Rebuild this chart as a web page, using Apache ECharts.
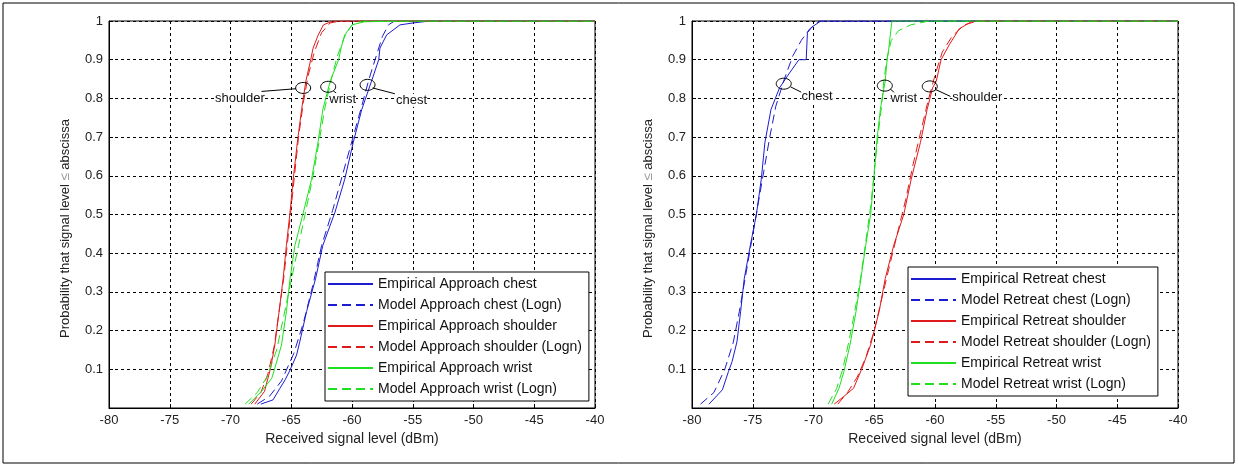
<!DOCTYPE html>
<html>
<head>
<meta charset="utf-8">
<script src="https://cdn.jsdelivr.net/npm/echarts@6/dist/echarts.min.js"></script>
<style>
  html, body { margin: 0; padding: 0; background: #fff; }
  #chart { width: 1238px; height: 467px; }
</style>
</head>
<body>
<div id="chart"></div>
<script>
// CDF curves: [signal level dBm, probability]
const xTicks = [-80, -40, 5];
const yTicks = [0, 1, 0.1];

// left panel: approach
const empApproachChest = [[-67.5,0.01],[-66.5,0.021],[-65.95,0.05],[-65.5,0.073],[-65.1,0.098],[-64.56,0.137],[-64.3,0.171],[-63.74,0.249],[-63.0,0.334],[-62.4,0.42],[-61.4,0.506],[-60.6,0.591],[-59.9,0.686],[-59.2,0.771],[-58.4,0.844],[-57.8,0.9],[-57.7,0.93],[-57.15,0.964],[-56.05,0.99],[-54.95,0.995],[-53.6,1],[-40,1]];
const modApproachChest = [[-67.8,0.01],[-66.8,0.03],[-65.8,0.07],[-64.8,0.14],[-64.0,0.22],[-63.2,0.32],[-62.5,0.42],[-61.6,0.51],[-60.8,0.6],[-60.0,0.69],[-59.2,0.78],[-58.6,0.85],[-58.0,0.91],[-57.5,0.96],[-57.0,0.99],[-56.5,1],[-40,1]];
const empApproachShoulder = [[-68.0,0.01],[-67.2,0.043],[-66.7,0.103],[-66.35,0.163],[-66.0,0.249],[-65.67,0.334],[-65.4,0.42],[-65.1,0.506],[-64.84,0.591],[-64.5,0.686],[-64.15,0.771],[-63.8,0.844],[-63.4,0.9],[-63.2,0.93],[-62.78,0.964],[-62.35,0.99],[-61.6,1],[-40,1]];
const modApproachShoulder = [[-68.3,0.01],[-67.5,0.04],[-66.9,0.09],[-66.4,0.16],[-66.0,0.25],[-65.6,0.34],[-65.3,0.43],[-65.0,0.52],[-64.7,0.61],[-64.4,0.7],[-64.0,0.79],[-63.6,0.86],[-63.1,0.92],[-62.5,0.97],[-61.8,0.995],[-61.0,1],[-40,1]];
const empApproachWrist = [[-68.5,0.01],[-67.45,0.043],[-66.6,0.077],[-66.35,0.103],[-65.8,0.163],[-65.4,0.249],[-65.1,0.334],[-64.7,0.42],[-64.0,0.506],[-63.33,0.591],[-62.8,0.686],[-62.4,0.771],[-61.8,0.844],[-61.1,0.9],[-60.9,0.93],[-60.6,0.964],[-60.0,0.99],[-59.0,0.998],[-55.0,1],[-40,1]];
const modApproachWrist = [[-68.8,0.01],[-67.8,0.04],[-67.0,0.08],[-66.2,0.15],[-65.6,0.24],[-65.0,0.33],[-64.4,0.42],[-63.8,0.51],[-63.2,0.6],[-62.7,0.69],[-62.2,0.78],[-61.7,0.85],[-61.2,0.91],[-60.6,0.96],[-60.0,0.99],[-59.2,1],[-40,1]];

// right panel: retreat
const empRetreatChest = [[-78.6,0.01],[-77.5,0.047],[-77.0,0.094],[-76.7,0.12],[-76.3,0.171],[-76.0,0.249],[-75.7,0.334],[-75.2,0.42],[-74.7,0.5],[-74.3,0.591],[-74.0,0.686],[-73.5,0.771],[-72.8,0.827],[-72.1,0.86],[-71.2,0.9],[-70.6,0.9],[-70.5,0.97],[-70.1,0.985],[-69.4,1],[-40,1]];
const modRetreatChest = [[-79.3,0.01],[-78.2,0.04],[-77.3,0.1],[-76.6,0.17],[-76.1,0.25],[-75.6,0.34],[-75.1,0.43],[-74.6,0.52],[-74.1,0.61],[-73.6,0.7],[-73.1,0.78],[-72.4,0.85],[-71.7,0.91],[-71.0,0.95],[-70.3,0.98],[-69.5,1],[-40,1]];
const empRetreatShoulder = [[-68.3,0.01],[-67.5,0.03],[-66.7,0.051],[-66.0,0.103],[-65.3,0.163],[-64.6,0.249],[-64.1,0.334],[-63.4,0.42],[-62.57,0.5],[-61.96,0.591],[-61.2,0.686],[-60.65,0.771],[-60.2,0.827],[-59.9,0.844],[-59.5,0.9],[-58.8,0.94],[-58.0,0.98],[-56.9,1],[-40,1]];
const modRetreatShoulder = [[-68.0,0.01],[-67.2,0.04],[-66.4,0.08],[-65.7,0.13],[-65.0,0.2],[-64.4,0.28],[-63.8,0.36],[-63.1,0.45],[-62.4,0.54],[-61.8,0.63],[-61.2,0.71],[-60.6,0.79],[-60.0,0.86],[-59.4,0.92],[-58.6,0.96],[-57.6,0.99],[-56.5,1],[-40,1]];
const empRetreatWrist = [[-68.5,0.01],[-67.9,0.051],[-67.5,0.094],[-67.0,0.163],[-66.5,0.249],[-66.1,0.334],[-65.7,0.42],[-65.3,0.5],[-65.04,0.591],[-64.8,0.686],[-64.5,0.771],[-64.2,0.827],[-64.1,0.844],[-63.94,0.9],[-63.8,0.93],[-63.55,1],[-40,1]];
const modRetreatWrist = [[-68.8,0.01],[-68.1,0.05],[-67.6,0.1],[-67.1,0.17],[-66.6,0.25],[-66.1,0.34],[-65.7,0.43],[-65.3,0.52],[-65.0,0.61],[-64.7,0.7],[-64.4,0.78],[-64.2,0.85],[-63.9,0.91],[-63.6,0.95],[-63.0,0.975],[-62.0,0.99],[-60.5,1],[-40,1]];

const leftNames = ["Empirical Approach chest", "Model Approach chest (Logn)", "Empirical Approach shoulder", "Model Approach shoulder (Logn)", "Empirical Approach wrist", "Model Approach wrist (Logn)"];
const rightNames = ["Empirical Retreat chest", "Model Retreat chest (Logn)", "Empirical Retreat shoulder", "Model Retreat shoulder (Logn)", "Empirical Retreat wrist", "Model Retreat wrist (Logn)"];
const leftData = [empApproachChest, modApproachChest, empApproachShoulder, modApproachShoulder, empApproachWrist, modApproachWrist];
const rightData = [empRetreatChest, modRetreatChest, empRetreatShoulder, modRetreatShoulder, empRetreatWrist, modRetreatWrist];

// annotations: label, ellipse centre, leader start, leader end, text centre (data coords)
const leftNotes = [
  ["shoulder", [-64.02, 0.827], [-64.62, 0.825], [-67.45, 0.818], [-69.23, 0.799]],
  ["wrist", [-61.96, 0.83], [-61.55, 0.82], [-61.05, 0.807], [-60.77, 0.797]],
  ["chest", [-58.72, 0.835], [-58.3, 0.827], [-56.47, 0.812], [-55.09, 0.795]]
];
const rightNotes = [
  ["chest", [-72.45, 0.838], [-71.9, 0.83], [-71.0, 0.816], [-69.7, 0.804]],
  ["wrist", [-64.13, 0.833], [-63.67, 0.824], [-63.17, 0.81], [-62.57, 0.799]],
  ["shoulder", [-60.43, 0.831], [-59.96, 0.823], [-58.72, 0.805], [-56.52, 0.803]]
];

const colors = ["#1c1cd0", "#1c1cd0", "#e01a1a", "#e01a1a", "#1ee01e", "#1ee01e"];
const FONT = "Liberation Sans, Arial, sans-serif";

const chart = echarts.init(document.getElementById("chart"));

function xAxisCfg(gi) {
  return {
    type: "value", gridIndex: gi,
    min: xTicks[0], max: xTicks[1], interval: xTicks[2],
    name: "Received signal level (dBm)",
    nameLocation: "middle", nameGap: 22,
    nameTextStyle: { color: "#222", fontSize: 14, fontFamily: FONT },
    axisLine: { show: true, lineStyle: { color: "#000", width: 1 } },
    axisTick: { show: true, inside: true, length: 4, lineStyle: { color: "#000" } },
    axisLabel: { color: "#222", fontSize: 13, fontFamily: FONT, margin: 6 },
    splitLine: { show: true, lineStyle: { color: "#000", type: [3, 3], width: 1 } }
  };
}
function yAxisCfg(gi) {
  return {
    type: "value", gridIndex: gi,
    min: yTicks[0], max: yTicks[1], interval: yTicks[2],
    name: "Probability that signal level {g|≤} abscissa",
    nameLocation: "middle", nameGap: 37,
    nameTextStyle: { color: "#222", fontSize: 13, fontFamily: FONT, padding: [0, 28, 0, 0], rich: { g: { color: "#999", fontSize: 13 } } },
    axisLine: { show: true, lineStyle: { color: "#000", width: 1 } },
    axisTick: { show: true, inside: true, length: 4, lineStyle: { color: "#000" } },
    axisLabel: { color: "#222", fontSize: 13, fontFamily: FONT, margin: 6, showMinLabel: false },
    splitLine: { show: true, lineStyle: { color: "#000", type: [3, 3], width: 1 } }
  };
}
function seriesFor(names, data, gi) {
  return names.map((n, i) => ({
    name: n, type: "line", xAxisIndex: gi, yAxisIndex: gi,
    data: data[i], showSymbol: false, symbol: "none", silent: true,
    color: colors[i],
    lineStyle: { color: colors[i], width: 1, type: i % 2 ? [9, 5] : "solid" }
  }));
}
function legendCfg(names, left, top) {
  return {
    data: names, orient: "vertical", left: left, top: top,
    itemWidth: 45, itemHeight: 14, itemGap: 7,
    padding: [5, 7, 5, 2],
    itemStyle: { opacity: 0 },
    backgroundColor: "#fff", borderColor: "#000", borderWidth: 1, borderRadius: 0,
    textStyle: { color: "#111", fontSize: 14, fontFamily: FONT },
    selectedMode: false
  };
}

chart.setOption({
  animation: false,
  backgroundColor: "#fff",
  grid: [
    { left: 109, top: 21, width: 486, height: 387, show: true, borderColor: "#000", borderWidth: 1, backgroundColor: "#fff" },
    { left: 692, top: 21, width: 486, height: 387, show: true, borderColor: "#000", borderWidth: 1, backgroundColor: "#fff" }
  ],
  xAxis: [xAxisCfg(0), xAxisCfg(1)],
  yAxis: [yAxisCfg(0), yAxisCfg(1)],
  legend: [legendCfg(leftNames, 325, 272), legendCfg(rightNames, 908, 267)],
  series: seriesFor(leftNames, leftData, 0).concat(seriesFor(rightNames, rightData, 1))
});

// annotation ellipses, leader lines and labels placed through the axes
function notes(list, gi) {
  const px = (p) => chart.convertToPixel({ gridIndex: gi }, p);
  const out = [];
  list.forEach((a) => {
    const c = px(a[1]), s = px(a[2]), e = px(a[3]), t = px(a[4]);
    out.push({ type: "ellipse", shape: { cx: c[0], cy: c[1], rx: 7.5, ry: 5.5 }, style: { fill: null, stroke: "#000", lineWidth: 1 }, z: 10 });
    out.push({ type: "line", shape: { x1: s[0], y1: s[1], x2: e[0], y2: e[1] }, style: { stroke: "#000", lineWidth: 1 }, z: 10 });
    out.push({ type: "text", x: t[0], y: t[1], style: { text: a[0], fill: "#111", font: "13px " + FONT, align: "center", verticalAlign: "middle", backgroundColor: "#fff" }, z: 10 });
  });
  return out;
}

chart.setOption({
  graphic: [
    { type: "rect", shape: { x: 3, y: 3, width: 1231, height: 460 }, style: { fill: null, stroke: "#000", lineWidth: 1 }, z: 0, silent: true }
  ].concat(notes(leftNotes, 0), notes(rightNotes, 1))
});
</script>
</body>
</html>
